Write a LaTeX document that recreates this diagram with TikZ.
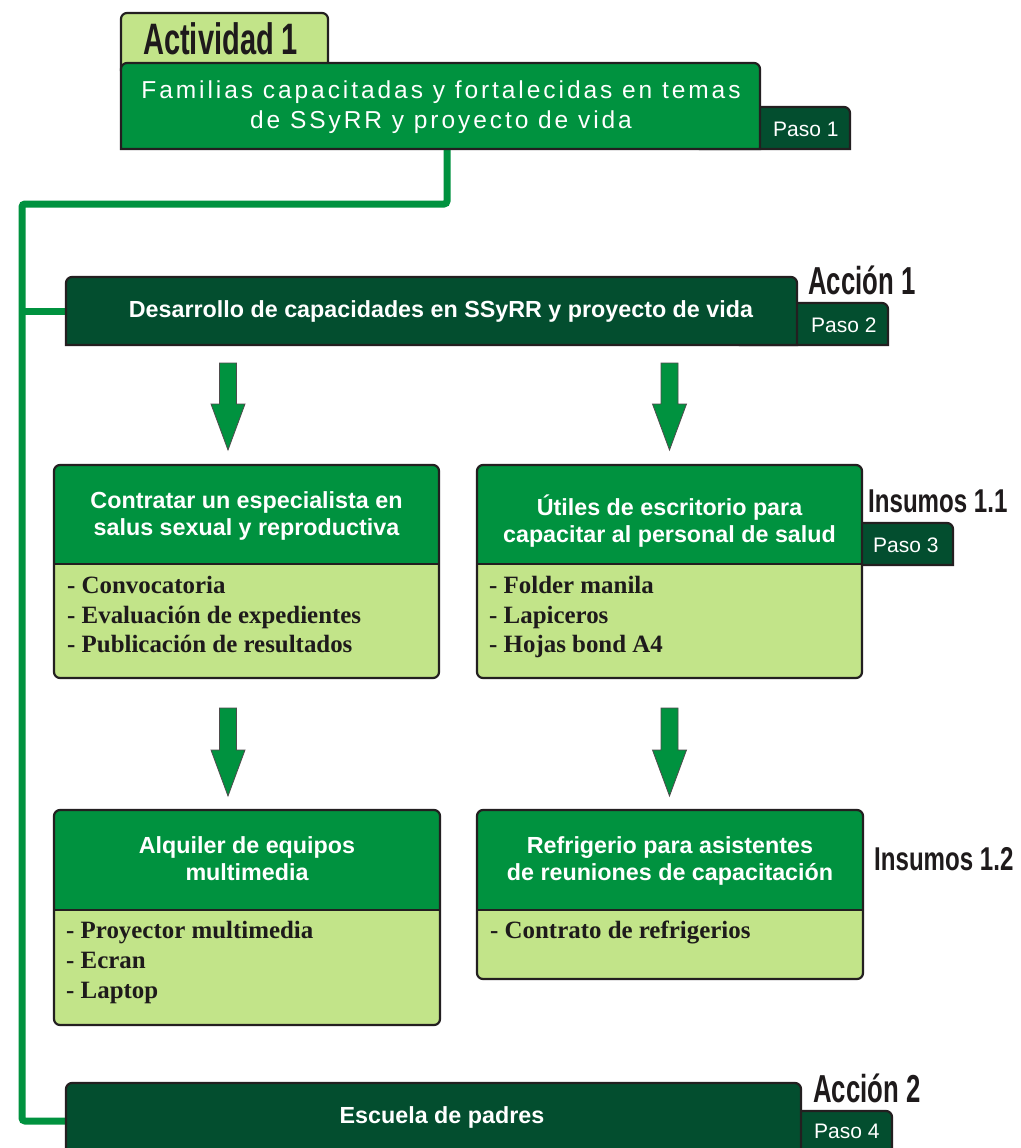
\documentclass[tikz,border=0pt]{standalone}
\usepackage{fontspec}
\setmainfont{Liberation Sans}
\newfontfamily\titlefont{Liberation Sans}[LetterSpace=12]
\newfontfamily\narA{Liberation Sans Bold}[FakeStretch=0.66]
\newfontfamily\narB{Liberation Sans Bold}[FakeStretch=0.73]
\newfontfamily\serb{Liberation Serif Bold}
\definecolor{gmid}{RGB}{0,146,63}
\definecolor{gdark}{RGB}{3,78,47}
\definecolor{glight}{RGB}{194,228,137}
\definecolor{bord}{RGB}{35,31,32}
\definecolor{ink}{RGB}{30,26,27}
% top-rounded rectangle: x1,y1,x2,y2
\newcommand\toprect[4]{(#1,#4) -- (#1,#2+6) arc[start angle=180,end angle=270,radius=6] -- (#3-6,#2) arc[start angle=270,end angle=360,radius=6] -- (#3,#4) -- cycle}
% tab with rounded top-right corner
\newcommand\tabshape[4]{(#1,#4) -- (#1,#2) -- (#3-6,#2) arc[start angle=270,end angle=360,radius=6] -- (#3,#4) -- cycle}
% block arrow: xc, top, head start, tip
\newcommand\blockarrow[4]{\filldraw[blockarr] (#1-8.5,#2) -- (#1+8.5,#2) -- (#1+8.5,#3) -- (#1+17,#3) -- (#1,#4) -- (#1-17,#3) -- (#1-8.5,#3) -- cycle;}
% two-part box: x1,y1,x2,ymid,y2
\newcommand\twobox[5]{%
  \fill[glight, rounded corners=6pt] (#1,#2) rectangle (#3,#5);
  \fill[gmid] \toprect{#1}{#2}{#3}{#4};
  \draw[bx] (#1,#4) -- (#3,#4);
  \draw[bx, rounded corners=6pt] (#1,#2) rectangle (#3,#5);}
\tikzset{
  bx/.style={draw=bord, line width=2.2pt},
  blockarr/.style={fill=gmid, draw=bord!80, line width=0.8pt},
  conn/.style={draw=gmid, line width=7pt, rounded corners=3pt},
  hdtxt/.style={anchor=base, text=white, inner sep=0pt, font=\bfseries\fontsize{23.3}{28}\selectfont},
  ttltxt/.style={anchor=base, text=white, inner sep=0pt, font=\titlefont\fontsize{24.5}{28}\selectfont},
  bodytxt/.style={anchor=base west, text=ink, inner sep=0pt, font=\serb\fontsize{24.9}{30}\selectfont},
  pasotxt/.style={anchor=base west, text=white, inner sep=0pt, font=\fontsize{21}{25}\selectfont},
  labA/.style={anchor=base west, text=ink, inner sep=0pt, font=\narA\fontsize{44}{48}\selectfont},
  labC/.style={anchor=base west, text=ink, inner sep=0pt, font=\narA\fontsize{39}{44}\selectfont},
  labI/.style={anchor=base west, text=ink, inner sep=0pt, font=\narB\fontsize{33}{38}\selectfont},
}
\begin{document}
\begin{tikzpicture}[x=1pt,y=-1pt]
\useasboundingbox (0,0) rectangle (1020,1148);
\clip (0,0) rectangle (1020,1148);
\fill[white] (0,0) rectangle (1020,1148);

% connectors (under the boxes)
\coordinate (topout) at (447,149);
\coordinate (bend1) at (447,204);
\coordinate (bend2) at (22,204);
\coordinate (bend3) at (22,1121);
\coordinate (acc2in) at (66,1121);
\coordinate (split) at (22,311);
\coordinate (acc1in) at (66,311);
\draw[conn] (topout) -- (bend1) -- (bend2) -- (bend3) -- (acc2in);
\draw[gmid, line width=7pt] (split) -- (acc1in);

% Actividad 1 tab and Paso 1 tab
\filldraw[bx, fill=glight] \toprect{121}{13}{328}{70};
\filldraw[bx, fill=gdark] \tabshape{700}{107}{850}{149};
% main box
\filldraw[bx, fill=gmid] \toprect{121}{63}{760}{149};
\node[labA] (actlab) at (143,55) {Actividad 1};
\node[ttltxt] (act1) at (441,99) {Familias capacitadas y fortalecidas en temas};
\node[ttltxt] (act2) at (441,128) {de SSyRR y proyecto de vida};
\node[pasotxt] (paso1) at (773,136) {Paso 1};

% Accion 1
\filldraw[bx, fill=gdark] \tabshape{740}{303}{888}{345};
\filldraw[bx, fill=gdark] \toprect{66}{277}{797}{345};
\node[hdtxt] (acc1) at (441,317) {Desarrollo de capacidades en SSyRR y proyecto de vida};
\node[labC] (acc1lab) at (808,294) {Acción 1};
\node[pasotxt] (paso2) at (811,332) {Paso 2};

% arrows row 1
\blockarrow{228}{363}{404}{450}
\blockarrow{669.5}{363}{404}{450}

% Insumos 1.1 boxes
\filldraw[bx, fill=gdark] \tabshape{820}{523}{953}{565};
\twobox{54}{465}{439}{564}{678}
\twobox{477}{465}{862}{564}{678}
\node[hdtxt] (b1a) at (246.5,508) {Contratar un especialista en};
\node[hdtxt] (b1b) at (246.5,535) {salus sexual y reproductiva};
\node[bodytxt] (b1c) at (67,593) {- Convocatoria};
\node[bodytxt] (b1d) at (67,623) {- Evaluación de expedientes};
\node[bodytxt] (b1e) at (67,652) {- Publicación de resultados};
\node[hdtxt] (b2a) at (669.5,515) {Útiles de escritorio para};
\node[hdtxt] (b2b) at (669.5,542) {capacitar al personal de salud};
\node[bodytxt] (b2c) at (489,593) {- Folder manila};
\node[bodytxt] (b2d) at (489,623) {- Lapiceros};
\node[bodytxt] (b2e) at (489,652) {- Hojas bond A4};
\node[labI] (ins1lab) at (868,512) {Insumos 1.1};
\node[pasotxt] (paso3) at (873,552) {Paso 3};

% arrows row 2
\blockarrow{228}{708}{750}{796}
\blockarrow{669.5}{708}{750}{796}

% Insumos 1.2 boxes
\twobox{54}{810}{440}{910}{1025}
\twobox{477}{810}{863}{910}{979}
\node[hdtxt] (b3a) at (247,853) {Alquiler de equipos};
\node[hdtxt] (b3b) at (247,880) {multimedia};
\node[bodytxt] (b3c) at (66,938) {- Proyector multimedia};
\node[bodytxt] (b3d) at (66,968) {- Ecran};
\node[bodytxt] (b3e) at (66,998) {- Laptop};
\node[hdtxt] (b4a) at (670,853) {Refrigerio para asistentes};
\node[hdtxt] (b4b) at (670,880) {de reuniones de capacitación};
\node[bodytxt] (b4c) at (490,938) {- Contrato de refrigerios};
\node[labI] (ins2lab) at (874,870) {Insumos 1.2};

% Accion 2
\filldraw[bx, fill=gdark] \tabshape{740}{1111}{892}{1170};
\filldraw[bx, fill=gdark] \toprect{66}{1083}{801}{1170};
\node[hdtxt] (acc2) at (442,1123) {Escuela de padres};
\node[labC] (acc2lab) at (813,1102) {Acción 2};
\node[pasotxt] (paso4) at (814,1138) {Paso 4};
\end{tikzpicture}
\end{document}
